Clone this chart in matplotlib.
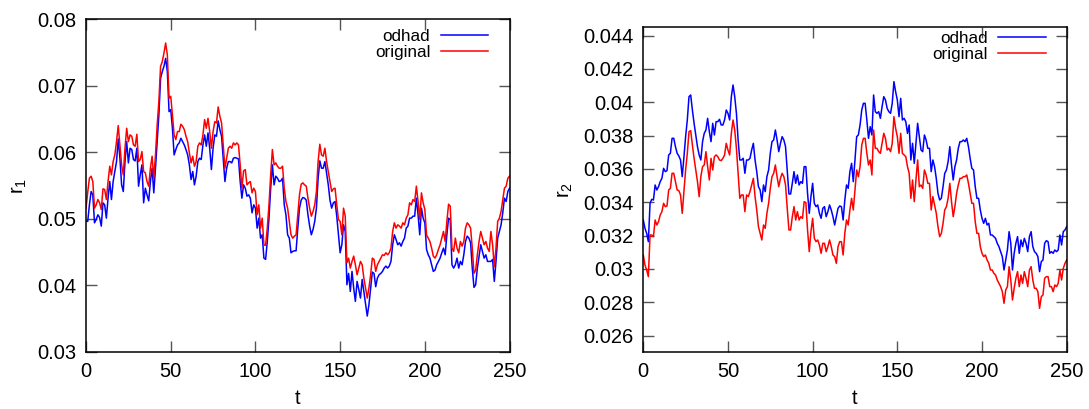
import numpy as np
import matplotlib
matplotlib.use("Agg")
import matplotlib.pyplot as plt
from matplotlib.ticker import FormatStrFormatter

plt.rcParams["font.family"] = ["Liberation Sans", "DejaVu Sans"]
plt.rcParams["mathtext.default"] = "regular"

# time axis, one sample per step
t = np.arange(0, 251)

# r1 (left panel)
odhad_r1 = [
    0.0497, 0.0496, 0.0521, 0.0541, 0.0536, 0.0494, 0.0499, 0.0506, 0.0502, 0.0489,
    0.0524, 0.0521, 0.0501, 0.0531, 0.0556, 0.0529, 0.0556, 0.0571, 0.0586, 0.0620,
    0.0591, 0.0551, 0.0541, 0.0586, 0.0616, 0.0584, 0.0606, 0.0604, 0.0589, 0.0587,
    0.0606, 0.0549, 0.0566, 0.0581, 0.0524, 0.0546, 0.0536, 0.0527, 0.0556, 0.0576,
    0.0539, 0.0576, 0.0616, 0.0656, 0.0711, 0.0721, 0.0729, 0.0741, 0.0721, 0.0661,
    0.0664, 0.0636, 0.0596, 0.0604, 0.0611, 0.0614, 0.0621, 0.0616, 0.0611, 0.0604,
    0.0596, 0.0581, 0.0559, 0.0571, 0.0551, 0.0564, 0.0586, 0.0591, 0.0589, 0.0611,
    0.0626, 0.0609, 0.0629, 0.0606, 0.0574, 0.0606, 0.0626, 0.0624, 0.0647, 0.0634,
    0.0624, 0.0589, 0.0556, 0.0576, 0.0586, 0.0586, 0.0584, 0.0591, 0.0592, 0.0591,
    0.0590, 0.0556, 0.0531, 0.0551, 0.0546, 0.0534, 0.0536, 0.0531, 0.0509, 0.0521,
    0.0516, 0.0486, 0.0501, 0.0471, 0.0476, 0.0441, 0.0439, 0.0466, 0.0501, 0.0546,
    0.0581, 0.0551, 0.0564, 0.0561, 0.0556, 0.0557, 0.0561, 0.0521, 0.0506, 0.0476,
    0.0471, 0.0449, 0.0451, 0.0452, 0.0452, 0.0486, 0.0516, 0.0528, 0.0532, 0.0531,
    0.0528, 0.0506, 0.0489, 0.0476, 0.0484, 0.0496, 0.0516, 0.0561, 0.0587, 0.0576,
    0.0576, 0.0586, 0.0569, 0.0551, 0.0528, 0.0516, 0.0524, 0.0526, 0.0504, 0.0476,
    0.0449, 0.0461, 0.0491, 0.0481, 0.0401, 0.0418, 0.0391, 0.0421, 0.0396, 0.0376,
    0.0406, 0.0394, 0.0381, 0.0409, 0.0391, 0.0374, 0.0354, 0.0371, 0.0396, 0.0420,
    0.0418, 0.0398, 0.0411, 0.0416, 0.0418, 0.0421, 0.0426, 0.0429, 0.0426, 0.0429,
    0.0436, 0.0461, 0.0476, 0.0469, 0.0461, 0.0464, 0.0459, 0.0466, 0.0471, 0.0486,
    0.0489, 0.0501, 0.0501, 0.0504, 0.0504, 0.0531, 0.0506, 0.0476, 0.0516, 0.0501,
    0.0494, 0.0454, 0.0446, 0.0441, 0.0431, 0.0421, 0.0423, 0.0431, 0.0436, 0.0441,
    0.0449, 0.0456, 0.0446, 0.0476, 0.0501, 0.0499, 0.0431, 0.0426, 0.0431, 0.0441,
    0.0426, 0.0436, 0.0431, 0.0446, 0.0466, 0.0474, 0.0471, 0.0464, 0.0426, 0.0397,
    0.0401, 0.0426, 0.0444, 0.0461, 0.0451, 0.0441, 0.0446, 0.0436, 0.0436, 0.0436,
    0.0439, 0.0406, 0.0436, 0.0471, 0.0481, 0.0491, 0.0509, 0.0531, 0.0526, 0.0541,
    0.0546,
]
original_r1 = [
    0.0516, 0.0540, 0.0561, 0.0564, 0.0556, 0.0516, 0.0521, 0.0529, 0.0524, 0.0514,
    0.0545, 0.0544, 0.0529, 0.0556, 0.0579, 0.0566, 0.0586, 0.0596, 0.0616, 0.0640,
    0.0611, 0.0581, 0.0566, 0.0606, 0.0636, 0.0616, 0.0626, 0.0624, 0.0611, 0.0609,
    0.0627, 0.0586, 0.0589, 0.0601, 0.0571, 0.0569, 0.0556, 0.0549, 0.0576, 0.0594,
    0.0561, 0.0596, 0.0641, 0.0676, 0.0729, 0.0736, 0.0749, 0.0764, 0.0746, 0.0681,
    0.0684, 0.0656, 0.0626, 0.0619, 0.0631, 0.0631, 0.0642, 0.0639, 0.0634, 0.0624,
    0.0616, 0.0599, 0.0584, 0.0594, 0.0579, 0.0586, 0.0609, 0.0614, 0.0611, 0.0626,
    0.0649, 0.0636, 0.0651, 0.0631, 0.0606, 0.0631, 0.0646, 0.0644, 0.0668, 0.0654,
    0.0644, 0.0611, 0.0576, 0.0591, 0.0606, 0.0609, 0.0606, 0.0614, 0.0611, 0.0614,
    0.0611, 0.0581, 0.0546, 0.0572, 0.0574, 0.0551, 0.0554, 0.0556, 0.0539, 0.0546,
    0.0541, 0.0506, 0.0521, 0.0486, 0.0501, 0.0461, 0.0460, 0.0486, 0.0521, 0.0566,
    0.0604, 0.0581, 0.0584, 0.0579, 0.0576, 0.0576, 0.0579, 0.0546, 0.0526, 0.0516,
    0.0496, 0.0476, 0.0471, 0.0474, 0.0476, 0.0506, 0.0536, 0.0552, 0.0554, 0.0551,
    0.0549, 0.0531, 0.0516, 0.0504, 0.0511, 0.0521, 0.0541, 0.0586, 0.0612, 0.0596,
    0.0594, 0.0606, 0.0586, 0.0571, 0.0556, 0.0541, 0.0545, 0.0546, 0.0521, 0.0499,
    0.0496, 0.0476, 0.0516, 0.0504, 0.0434, 0.0441, 0.0426, 0.0436, 0.0444, 0.0431,
    0.0416, 0.0426, 0.0436, 0.0431, 0.0411, 0.0396, 0.0381, 0.0396, 0.0416, 0.0441,
    0.0439, 0.0421, 0.0431, 0.0436, 0.0441, 0.0446, 0.0445, 0.0449, 0.0446, 0.0449,
    0.0456, 0.0481, 0.0494, 0.0486, 0.0491, 0.0489, 0.0486, 0.0494, 0.0491, 0.0501,
    0.0506, 0.0524, 0.0521, 0.0529, 0.0526, 0.0549, 0.0526, 0.0499, 0.0539, 0.0524,
    0.0514, 0.0476, 0.0471, 0.0466, 0.0456, 0.0444, 0.0441, 0.0446, 0.0454, 0.0461,
    0.0471, 0.0481, 0.0466, 0.0496, 0.0522, 0.0519, 0.0456, 0.0451, 0.0471, 0.0456,
    0.0449, 0.0466, 0.0459, 0.0466, 0.0486, 0.0494, 0.0491, 0.0486, 0.0456, 0.0418,
    0.0423, 0.0446, 0.0466, 0.0481, 0.0471, 0.0461, 0.0466, 0.0456, 0.0451, 0.0481,
    0.0461, 0.0428, 0.0456, 0.0496, 0.0501, 0.0511, 0.0529, 0.0546, 0.0549, 0.0561,
    0.0564,
]

# r2 (right panel)
odhad_r2 = [
    0.03294, 0.03244, 0.03214, 0.03164, 0.03394, 0.03418, 0.03414, 0.03504, 0.03474, 0.03494,
    0.03524, 0.03544, 0.03604, 0.03584, 0.03590, 0.03684, 0.03694, 0.03784, 0.03784, 0.03734,
    0.03694, 0.03678, 0.03654, 0.03554, 0.03670, 0.03794, 0.03894, 0.04034, 0.04044, 0.03954,
    0.03874, 0.03804, 0.03734, 0.03684, 0.03654, 0.03764, 0.03814, 0.03834, 0.03904, 0.03824,
    0.03764, 0.03874, 0.03804, 0.03884, 0.03884, 0.03898, 0.03864, 0.03864, 0.03894, 0.03954,
    0.03934, 0.03894, 0.04034, 0.04104, 0.04034, 0.03934, 0.03774, 0.03654, 0.03654, 0.03664,
    0.03574, 0.03654, 0.03654, 0.03664, 0.03714, 0.03754, 0.03654, 0.03584, 0.03494, 0.03474,
    0.03404, 0.03504, 0.03464, 0.03554, 0.03594, 0.03694, 0.03764, 0.03774, 0.03834, 0.03774,
    0.03704, 0.03754, 0.03794, 0.03774, 0.03734, 0.03594, 0.03450, 0.03450, 0.03514, 0.03584,
    0.03514, 0.03564, 0.03504, 0.03524, 0.03514, 0.03614, 0.03614, 0.03454, 0.03334, 0.03434,
    0.03514, 0.03394, 0.03374, 0.03384, 0.03334, 0.03304, 0.03364, 0.03374, 0.03314, 0.03344,
    0.03384, 0.03354, 0.03314, 0.03264, 0.03314, 0.03364, 0.03378, 0.03374, 0.03294, 0.03414,
    0.03504, 0.03484, 0.03584, 0.03634, 0.03524, 0.03654, 0.03794, 0.03804, 0.03864, 0.03954,
    0.03994, 0.03994, 0.03894, 0.03784, 0.03854, 0.03804, 0.04044, 0.03944, 0.03934, 0.03944,
    0.03904, 0.03974, 0.04034, 0.04014, 0.03964, 0.03944, 0.03934, 0.03994, 0.04124, 0.04064,
    0.04014, 0.03914, 0.04024, 0.03894, 0.03904, 0.03884, 0.03814, 0.03864, 0.03654, 0.03754,
    0.03634, 0.03754, 0.03874, 0.03794, 0.03714, 0.03704, 0.03804, 0.03774, 0.03724, 0.03724,
    0.03584, 0.03654, 0.03614, 0.03544, 0.03454, 0.03414, 0.03424, 0.03494, 0.03574, 0.03594,
    0.03644, 0.03734, 0.03624, 0.03534, 0.03614, 0.03654, 0.03724, 0.03764, 0.03764, 0.03774,
    0.03764, 0.03784, 0.03734, 0.03664, 0.03604, 0.03594, 0.03494, 0.03424, 0.03424, 0.03354,
    0.03304, 0.03274, 0.03304, 0.03264, 0.03274, 0.03204, 0.03204, 0.03194, 0.03184, 0.03154,
    0.03134, 0.03104, 0.03074, 0.02994, 0.03054, 0.03114, 0.03224, 0.03154, 0.02994, 0.03094,
    0.03154, 0.03194, 0.03094, 0.03174, 0.03134, 0.03184, 0.03154, 0.03104, 0.03194, 0.03224,
    0.03134, 0.03104, 0.03094, 0.03074, 0.02984, 0.03044, 0.03054, 0.03154, 0.03170, 0.03164,
    0.03094, 0.03104, 0.03094, 0.03114, 0.03104, 0.03114, 0.03204, 0.03144, 0.03224, 0.03234,
    0.03254,
]
original_r2 = [
    0.03084, 0.03024, 0.02994, 0.02954, 0.03204, 0.03204, 0.03194, 0.03294, 0.03264, 0.03284,
    0.03324, 0.03344, 0.03394, 0.03374, 0.03378, 0.03474, 0.03484, 0.03574, 0.03574, 0.03524,
    0.03474, 0.03470, 0.03444, 0.03334, 0.03464, 0.03594, 0.03694, 0.03824, 0.03830, 0.03744,
    0.03664, 0.03594, 0.03524, 0.03434, 0.03554, 0.03614, 0.03624, 0.03704, 0.03614, 0.03534,
    0.03664, 0.03594, 0.03674, 0.03684, 0.03674, 0.03654, 0.03650, 0.03664, 0.03684, 0.03754,
    0.03714, 0.03684, 0.03814, 0.03894, 0.03834, 0.03724, 0.03574, 0.03424, 0.03444, 0.03444,
    0.03344, 0.03444, 0.03434, 0.03464, 0.03504, 0.03544, 0.03434, 0.03354, 0.03254, 0.03214,
    0.03174, 0.03264, 0.03244, 0.03334, 0.03394, 0.03484, 0.03554, 0.03574, 0.03624, 0.03554,
    0.03494, 0.03544, 0.03574, 0.03554, 0.03504, 0.03364, 0.03234, 0.03234, 0.03314, 0.03374,
    0.03294, 0.03344, 0.03294, 0.03314, 0.03304, 0.03404, 0.03398, 0.03234, 0.03104, 0.03224,
    0.03304, 0.03184, 0.03164, 0.03174, 0.03144, 0.03094, 0.03154, 0.03154, 0.03104, 0.03134,
    0.03174, 0.03134, 0.03084, 0.03074, 0.03034, 0.03134, 0.03164, 0.03164, 0.03084, 0.03214,
    0.03294, 0.03264, 0.03354, 0.03424, 0.03354, 0.03474, 0.03594, 0.03554, 0.03614, 0.03744,
    0.03784, 0.03784, 0.03694, 0.03624, 0.03654, 0.03564, 0.03834, 0.03724, 0.03724, 0.03704,
    0.03694, 0.03754, 0.03814, 0.03784, 0.03714, 0.03724, 0.03704, 0.03754, 0.03914, 0.03844,
    0.03794, 0.03694, 0.03814, 0.03694, 0.03684, 0.03674, 0.03614, 0.03574, 0.03424, 0.03534,
    0.03404, 0.03534, 0.03654, 0.03494, 0.03504, 0.03484, 0.03594, 0.03564, 0.03514, 0.03514,
    0.03354, 0.03434, 0.03384, 0.03334, 0.03254, 0.03194, 0.03214, 0.03274, 0.03354, 0.03374,
    0.03424, 0.03514, 0.03404, 0.03314, 0.03374, 0.03454, 0.03504, 0.03544, 0.03544, 0.03554,
    0.03554, 0.03564, 0.03514, 0.03454, 0.03394, 0.03394, 0.03284, 0.03214, 0.03214, 0.03134,
    0.03094, 0.03074, 0.03084, 0.03054, 0.03034, 0.02994, 0.02994, 0.02974, 0.02964, 0.02934,
    0.02914, 0.02894, 0.02864, 0.02794, 0.02874, 0.02894, 0.03014, 0.02934, 0.02814, 0.02884,
    0.02944, 0.02984, 0.02894, 0.02964, 0.02914, 0.02984, 0.02944, 0.02894, 0.02994, 0.03014,
    0.02934, 0.02884, 0.02884, 0.02864, 0.02764, 0.02834, 0.02844, 0.02944, 0.02954, 0.02954,
    0.02894, 0.02894, 0.02864, 0.02904, 0.02894, 0.02914, 0.02994, 0.02934, 0.03004, 0.03034,
    0.03054,
]

x_ticks = [0, 50, 100, 150, 200, 250]
r1_ticks = [0.03, 0.04, 0.05, 0.06, 0.07, 0.08]
r2_ticks = [0.026, 0.028, 0.03, 0.032, 0.034, 0.036, 0.038, 0.04, 0.042, 0.044]


def style_axes(ax, yticks, ylim, ylabel, legend_top):
    ax.set_xlim(0, 250)
    ax.set_ylim(*ylim)
    ax.set_xticks(x_ticks)
    ax.set_yticks(yticks)
    ax.yaxis.set_major_formatter(FormatStrFormatter("%g"))
    ax.tick_params(direction="in", length=8, width=1, color="#555555",
                   top=True, right=True, labelsize=14.5, pad=7)
    for s in ax.spines.values():
        s.set_linewidth(1.1)
    ax.set_xlabel("t", fontsize=14.5, labelpad=6)
    ax.set_ylabel(ylabel, fontsize=14.5, labelpad=6)
    ax.legend(loc="upper right", bbox_to_anchor=(0.95, legend_top), frameon=False,
              markerfirst=False, fontsize=12.3, handlelength=2.8,
              handletextpad=0.6, labelspacing=0.08, borderpad=0,
              borderaxespad=0)


fig = plt.figure(figsize=(10.89, 4.09), dpi=100)
ax1 = fig.add_axes([0.079, 0.1394, 0.3889, 0.814])
ax2 = fig.add_axes([0.5907, 0.1386, 0.3888, 0.7946])

ax1.plot(t, odhad_r1, color="#0000ff", lw=1.1, label="odhad")
ax1.plot(t, original_r1, color="#ff0000", lw=1.1, label="original")
style_axes(ax1, r1_ticks, (0.03, 0.08), "$r_1$", 0.97)

ax2.plot(t, odhad_r2, color="#0000ff", lw=1.1, label="odhad")
ax2.plot(t, original_r2, color="#ff0000", lw=1.1, label="original")
style_axes(ax2, r2_ticks, (0.025, 0.0445), "$r_2$", 0.99)

fig.savefig("out.png", dpi=100)
